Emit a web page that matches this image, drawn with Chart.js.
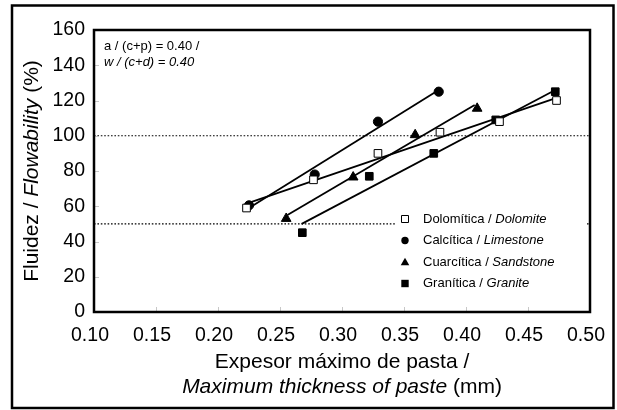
<!DOCTYPE html>
<html>
<head>
<meta charset="utf-8">
<script src="https://cdn.jsdelivr.net/npm/chart.js@4"></script>
<style>
  body { margin: 0; background: #fff; }
  #chart { display: block; }
</style>
</head>
<body>
<canvas id="chart" width="617" height="410"></canvas>
<script>
const FONT = "'Liberation Sans', Arial, sans-serif";

// valores
const dolomiteX = [0.223, 0.277, 0.329, 0.379, 0.427, 0.473];
const dolomiteY = [59, 75, 90, 102, 108, 120];
const limestoneX = [0.225, 0.278, 0.329, 0.378];
const limestoneY = [60.5, 78, 108, 125];
const sandstoneX = [0.255, 0.309, 0.359, 0.409];
const sandstoneY = [53, 76.5, 100.5, 115.5];
const graniteX = [0.268, 0.322, 0.374, 0.424, 0.472];
const graniteY = [45, 77, 90, 109, 125];

// líneas de tendencia (extremos leídos)
const dolomiteTrendX = [0.223, 0.473];
const dolomiteTrendY = [61.5, 121.5];
const limestoneTrendX = [0.225, 0.378];
const limestoneTrendY = [59, 126];
const sandstoneTrendX = [0.256, 0.407];
const sandstoneTrendY = [55, 117.5];
const graniteTrendX = [0.2675, 0.472];
const graniteTrendY = [50, 126];

const refLines = [50, 100];
const xTicks = [0.10, 0.15, 0.20, 0.25, 0.30, 0.35, 0.40, 0.45, 0.50];
const yTicks = [0, 20, 40, 60, 80, 100, 120, 140, 160];

const legendItems = [
    { style: 'openSquare', es: 'Dolomítica / ', en: 'Dolomite' },
    { style: 'circle', es: 'Calcítica / ', en: 'Limestone' },
    { style: 'triangle', es: 'Cuarcítica / ', en: 'Sandstone' },
    { style: 'square', es: 'Granítica / ', en: 'Granite' },
];

function pts(xs, ys) {
    return xs.map((x, i) => ({ x: x, y: ys[i] }));
}

function markerSet(label, xs, ys, style, fill, radius) {
    return {
        label: label,
        data: pts(xs, ys),
        showLine: false,
        pointStyle: style,
        pointRadius: radius,
        pointBackgroundColor: fill,
        pointBorderColor: '#000',
        pointBorderWidth: 1,
    };
}

function trendSet(xs, ys) {
    return {
        data: pts(xs, ys),
        showLine: true,
        borderColor: '#000',
        borderWidth: 1.8,
        pointRadius: 0,
    };
}

let datasets = [
    markerSet('Dolomítica', dolomiteX, dolomiteY, 'rect', '#fff', 5.4),
    markerSet('Calcítica', limestoneX, limestoneY, 'circle', '#000', 4.6),
    markerSet('Cuarcítica', sandstoneX, sandstoneY, 'triangle', '#000', 5.6),
    markerSet('Granítica', graniteX, graniteY, 'rect', '#000', 5.4),
    trendSet(dolomiteTrendX, dolomiteTrendY),
    trendSet(limestoneTrendX, limestoneTrendY),
    trendSet(sandstoneTrendX, sandstoneTrendY),
    trendSet(graniteTrendX, graniteTrendY),
];
refLines.forEach(v => {
    datasets.push({
        data: [{ x: xTicks[0], y: v }, { x: xTicks[xTicks.length - 1], y: v }],
        showLine: true,
        borderColor: '#000',
        borderWidth: 1.2,
        borderDash: [1.6, 1.8],
        pointRadius: 0,
    });
});

// dibuja texto con partes en cursiva
function drawParts(ctx, parts, x, y, size, align) {
    let total = 0;
    parts.forEach(p => {
        ctx.font = (p.i ? 'italic ' : '') + size + 'px ' + FONT;
        p.w = ctx.measureText(p.t).width;
        total += p.w;
    });
    let cx = align == 'center' ? x - total / 2 : x;
    ctx.textAlign = 'left';
    ctx.textBaseline = 'middle';
    parts.forEach(p => {
        ctx.font = (p.i ? 'italic ' : '') + size + 'px ' + FONT;
        ctx.fillText(p.t, cx, y);
        cx += p.w;
    });
}

function drawMarker(ctx, style, x, y) {
    ctx.fillStyle = '#000';
    ctx.strokeStyle = '#000';
    ctx.lineWidth = 1;
    ctx.beginPath();
    if (style == 'openSquare') {
        ctx.fillStyle = '#fff';
        ctx.rect(x - 3.5, y - 3.5, 7, 7);
        ctx.fill();
        ctx.stroke();
    } else if (style == 'circle') {
        ctx.arc(x, y, 3.7, 0, Math.PI * 2);
        ctx.fill();
    } else if (style == 'triangle') {
        ctx.moveTo(x, y - 4.2);
        ctx.lineTo(x + 4.3, y + 3.3);
        ctx.lineTo(x - 4.3, y + 3.3);
        ctx.closePath();
        ctx.fill();
    } else {
        ctx.rect(x - 3.7, y - 3.7, 7.4, 7.4);
        ctx.fill();
    }
}

const decorations = {
    id: 'decorations',
    afterDatasetsDraw(chart) {
        const ctx = chart.ctx;
        const a = chart.chartArea;
        ctx.save();
        ctx.fillStyle = '#000';
        // anotación
        drawParts(ctx, [{ t: 'a / (c+p) = 0.40 /', i: false }], a.left + 10, 46, 13, 'left');
        drawParts(ctx, [{ t: 'w / (c+d) = 0.40', i: true }], a.left + 10, 62, 13, 'left');

        // leyenda
        ctx.fillStyle = '#fff';
        ctx.fillRect(396, 206, 190, 90);
        legendItems.forEach((it, i) => {
            const y = 219 + i * 21.5;
            drawMarker(ctx, it.style, 405, y);
            ctx.fillStyle = '#000';
            drawParts(ctx, [{ t: it.es, i: false }, { t: it.en, i: true }], 423, y, 13, 'left');
        });
        ctx.restore();
    },
    afterDraw(chart) {
        const ctx = chart.ctx;
        const a = chart.chartArea;
        const xs = chart.scales.x;
        const ys = chart.scales.y;
        ctx.save();
        // marcas interiores
        ctx.strokeStyle = '#c8c8c8';
        ctx.lineWidth = 1;
        ctx.beginPath();
        yTicks.forEach(v => {
            const py = Math.round(ys.getPixelForValue(v)) + 0.5;
            ctx.moveTo(a.left, py);
            ctx.lineTo(a.left + 5, py);
        });
        xTicks.forEach(v => {
            const px = Math.round(xs.getPixelForValue(v)) + 0.5;
            ctx.moveTo(px, a.bottom);
            ctx.lineTo(px, a.bottom - 5);
        });
        ctx.stroke();

        // marco del gráfico
        ctx.strokeStyle = '#000';
        ctx.lineWidth = 2.5;
        ctx.strokeRect(a.left, a.top, a.right - a.left, a.bottom - a.top);

        // marco exterior
        ctx.lineWidth = 2.5;
        ctx.strokeRect(12, 5.5, 601.5, 402.5);

        // títulos de ejes
        ctx.fillStyle = '#000';
        const cx = (a.left + a.right) / 2;
        drawParts(ctx, [{ t: 'Expesor máximo de pasta /', i: false }], cx, 362, 21, 'center');
        drawParts(ctx, [{ t: 'Maximum thickness of paste ', i: true }, { t: '(mm)', i: false }], cx, 387, 21, 'center');

        ctx.translate(32, (a.top + a.bottom) / 2);
        ctx.rotate(-Math.PI / 2);
        drawParts(ctx, [{ t: 'Fluidez / ', i: false }, { t: 'Flowability', i: true }, { t: ' (%)', i: false }], 0, 0, 21, 'center');
        ctx.restore();
    }
};

var myChart = new Chart(
    document.getElementById('chart'),
    {
        type: 'scatter',
        data: { datasets: datasets },
        options: {
            responsive: false,
            animation: false,
            devicePixelRatio: 1,
            layout: { padding: { top: 30, right: 27, left: 0, bottom: 0 } },
            plugins: {
                legend: { display: false },
                tooltip: { enabled: false },
            },
            scales: {
                x: {
                    type: 'linear',
                    min: 0.1,
                    max: 0.5,
                    afterBuildTicks: (scale) => { scale.ticks = xTicks.map(v => ({ value: v })); },
                    afterFit: (scale) => { scale.height = 98; },
                    grid: { display: false, drawTicks: false },
                    border: { display: false },
                    ticks: {
                        color: '#000',
                        padding: 0,
                        labelOffset: -4,
                        maxRotation: 0,
                        font: { family: FONT, size: 19.5, lineHeight: 2.45 },
                        callback: (v) => Number(v).toFixed(2),
                    },
                },
                y: {
                    min: 0,
                    max: 160,
                    afterBuildTicks: (scale) => { scale.ticks = yTicks.map(v => ({ value: v })); },
                    afterFit: (scale) => { scale.width = 94; },
                    grid: { display: false, drawTicks: false },
                    border: { display: false },
                    ticks: {
                        color: '#000',
                        padding: 9,
                        font: { family: FONT, size: 19.5 },
                    },
                },
            },
        },
        plugins: [decorations],
    }
);
</script>
</body>
</html>
